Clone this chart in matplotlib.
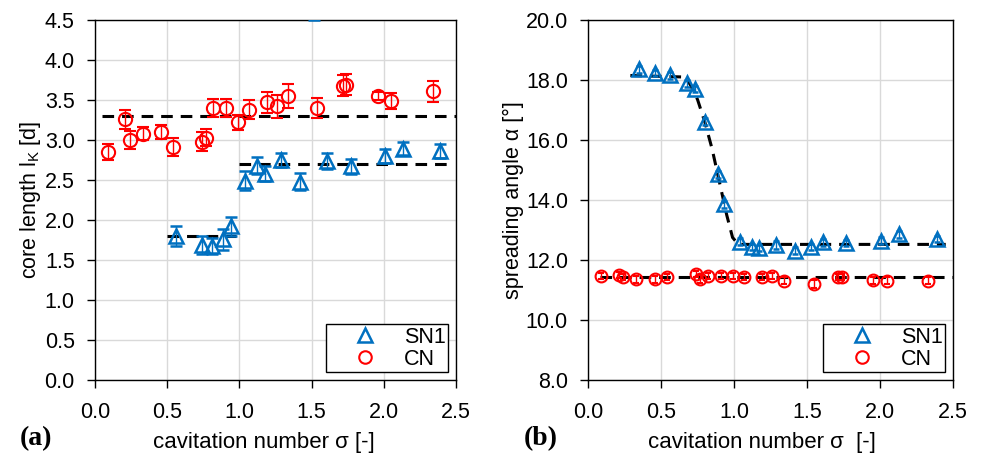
import matplotlib

matplotlib.use("Agg")
import matplotlib.pyplot as plt
from matplotlib.ticker import MultipleLocator, FormatStrFormatter

plt.rcParams["font.family"] = ["Liberation Sans", "DejaVu Sans"]

BLUE = "#0070C0"
RED = "#FF0000"
FS = 15.5

# (a) core length
sn1_core_sigma = [0.56, 0.74, 0.81, 0.89, 0.94, 1.04, 1.12, 1.18, 1.29, 1.42,
                  1.52, 1.61, 1.77, 2.01, 2.13, 2.39]
sn1_core_len = [1.80, 1.69, 1.67, 1.76, 1.92, 2.49, 2.68, 2.58, 2.75, 2.48,
                4.62, 2.74, 2.67, 2.80, 2.89, 2.86]
sn1_core_err = [0.13, 0.11, 0.10, 0.13, 0.12, 0.12, 0.11, 0.09, 0.09, 0.11,
                0.12, 0.10, 0.09, 0.09, 0.08, 0.09]

cn_core_sigma = [0.09, 0.21, 0.24, 0.33, 0.46, 0.54, 0.74, 0.77, 0.82, 0.91,
                 0.99, 1.07, 1.19, 1.26, 1.34, 1.54, 1.72, 1.74, 1.96, 2.05, 2.34]
cn_core_len = [2.85, 3.26, 3.00, 3.08, 3.10, 2.91, 2.98, 3.03, 3.40, 3.40,
               3.22, 3.38, 3.47, 3.42, 3.55, 3.40, 3.68, 3.69, 3.55, 3.49, 3.61]
cn_core_err = [0.10, 0.12, 0.11, 0.08, 0.09, 0.11, 0.12, 0.11, 0.11, 0.11,
               0.09, 0.12, 0.13, 0.14, 0.15, 0.13, 0.13, 0.13, 0.05, 0.10, 0.13]

# mean levels (dashed)
sn1_core_low = ([0.50, 0.98], [1.80, 1.80])
sn1_core_high = ([1.00, 2.46], [2.70, 2.70])
cn_core_mean = ([0.05, 2.50], [3.30, 3.30])

# (b) spreading angle
sn1_angle_sigma = [0.35, 0.46, 0.56, 0.68, 0.73, 0.80, 0.89, 0.93, 1.04, 1.12,
                   1.17, 1.29, 1.42, 1.53, 1.61, 1.77, 2.01, 2.13, 2.39]
sn1_angle = [18.36, 18.24, 18.16, 17.89, 17.69, 16.61, 14.86, 13.86, 12.61, 12.42,
             12.39, 12.50, 12.31, 12.42, 12.59, 12.58, 12.64, 12.86, 12.70]
sn1_angle_err = [0.12, 0.10, 0.12, 0.12, 0.10, 0.12, 0.12, 0.12, 0.12, 0.10,
                 0.10, 0.12, 0.12, 0.10, 0.12, 0.10, 0.12, 0.12, 0.10]

cn_angle_sigma = [0.09, 0.21, 0.24, 0.33, 0.46, 0.54, 0.74, 0.77, 0.82, 0.91,
                  0.99, 1.07, 1.19, 1.26, 1.34, 1.55, 1.71, 1.74, 1.95, 2.05, 2.33]
cn_angle = [11.47, 11.50, 11.44, 11.36, 11.36, 11.44, 11.53, 11.37, 11.47, 11.47,
            11.47, 11.44, 11.44, 11.48, 11.31, 11.20, 11.44, 11.42, 11.33, 11.31, 11.31]
cn_angle_err = [0.10, 0.10, 0.10, 0.12, 0.12, 0.10, 0.10, 0.12, 0.10, 0.10,
                0.10, 0.10, 0.10, 0.10, 0.12, 0.12, 0.10, 0.10, 0.12, 0.12, 0.12]

# trend line for SN1 angle
sn1_angle_fit_x = [0.29, 0.66, 0.70, 0.75, 0.80, 0.85, 0.90, 0.95, 0.99, 1.03, 2.45]
sn1_angle_fit_y = [18.15, 18.10, 17.85, 17.35, 16.60, 15.70, 14.60, 13.50, 12.75, 12.52, 12.52]
cn_angle_mean = ([0.08, 2.50], [11.42, 11.42])

DASH = (0, (3.8, 2.6))


def style_axes(ax):
    ax.grid(True, color="#d9d9d9", linewidth=1.0)
    ax.set_axisbelow(True)
    for spine in ["bottom", "top", "left", "right"]:
        ax.spines[spine].set_color("black")
        ax.spines[spine].set_linewidth(1.0)
    ax.tick_params(axis="both", direction="out", length=5.5, width=1,
                   labelsize=FS, colors="black", top=False, right=False)
    ax.tick_params(axis="y", pad=9)
    ax.tick_params(axis="x", pad=10)
    ax.set_xlim(0, 2.5)
    ax.xaxis.set_major_locator(MultipleLocator(0.5))
    ax.xaxis.set_major_formatter(FormatStrFormatter("%.1f"))
    ax.yaxis.set_major_formatter(FormatStrFormatter("%.1f"))


def add_legend(ax, h_sn1, h_cn):
    leg = ax.legend([h_sn1, h_cn], ["SN1", "CN"], loc="lower right",
                    fontsize=FS, frameon=True, fancybox=False,
                    handletextpad=0.1, borderpad=0.12, labelspacing=0.05,
                    handlelength=3.4, borderaxespad=0.35)
    leg.get_frame().set_edgecolor("black")
    leg.get_frame().set_linewidth(1.0)
    leg.get_frame().set_alpha(1.0)


fig = plt.figure(figsize=(9.82, 4.57), dpi=100)
ax1 = fig.add_axes([0.0967, 0.1685, 0.3676, 0.7877])
ax2 = fig.add_axes([0.5988, 0.1685, 0.3717, 0.7877])

# --- (a) ---
style_axes(ax1)
ax1.set_ylim(0, 4.5)
ax1.yaxis.set_major_locator(MultipleLocator(0.5))
for xs, ys in (sn1_core_low, sn1_core_high, cn_core_mean):
    ax1.plot(xs, ys, color="black", linestyle=DASH, linewidth=2.2, zorder=2)
ax1.errorbar(sn1_core_sigma, sn1_core_len, yerr=sn1_core_err, fmt="^",
             ms=10, mfc="none", mec=BLUE, mew=1.8, ecolor=BLUE,
             elinewidth=1.0, capsize=4, capthick=1.0, zorder=3)
ax1.errorbar(cn_core_sigma, cn_core_len, yerr=cn_core_err, fmt="o",
             ms=9.5, mfc="none", mec=RED, mew=1.5, ecolor=RED,
             elinewidth=1.0, capsize=4, capthick=1.0, zorder=3)
ax1.set_xlabel("cavitation number σ [-]", fontsize=16, labelpad=7)
ax1.xaxis.label.set_x(0.468)
ax1.set_ylabel("core length l$_\\mathregular{K}$ [d]", fontsize=FS, labelpad=1)
leg_sn1, = ax1.plot([], [], "^", ms=10, mfc="none", mec=BLUE, mew=1.8)
leg_cn, = ax1.plot([], [], "o", ms=9, mfc="none", mec=RED, mew=1.5)
add_legend(ax1, leg_sn1, leg_cn)

# --- (b) ---
style_axes(ax2)
ax2.set_ylim(8, 20)
ax2.yaxis.set_major_locator(MultipleLocator(2))
ax2.plot(sn1_angle_fit_x, sn1_angle_fit_y, color="black",
         linestyle=DASH, linewidth=2.2, zorder=2)
ax2.plot(*cn_angle_mean, color="black", linestyle=DASH, linewidth=2.2, zorder=2)
ax2.errorbar(sn1_angle_sigma, sn1_angle, yerr=sn1_angle_err, fmt="^",
             ms=9.5, mfc="none", mec=BLUE, mew=1.8, ecolor=BLUE,
             elinewidth=1.0, capsize=2, capthick=1.0, zorder=3)
ax2.errorbar(cn_angle_sigma, cn_angle, yerr=cn_angle_err, fmt="o",
             ms=8.5, mfc="none", mec=RED, mew=1.5, ecolor=RED,
             elinewidth=1.0, capsize=2, capthick=1.0, zorder=3)
ax2.set_xlabel("cavitation number σ  [-]", fontsize=16, labelpad=7)
ax2.xaxis.label.set_x(0.477)
ax2.set_ylabel("spreading angle α [°]", fontsize=FS, labelpad=1)
leg_sn1b, = ax2.plot([], [], "^", ms=10, mfc="none", mec=BLUE, mew=1.8)
leg_cnb, = ax2.plot([], [], "o", ms=9, mfc="none", mec=RED, mew=1.5)
add_legend(ax2, leg_sn1b, leg_cnb)

# panel letters
fig.text(0.020, 0.025, "(a)", fontsize=20, fontweight="bold",
         family=["Liberation Serif", "DejaVu Serif"])
fig.text(0.533, 0.025, "(b)", fontsize=20, fontweight="bold",
         family=["Liberation Serif", "DejaVu Serif"])

fig.savefig("out.png", dpi=100)
